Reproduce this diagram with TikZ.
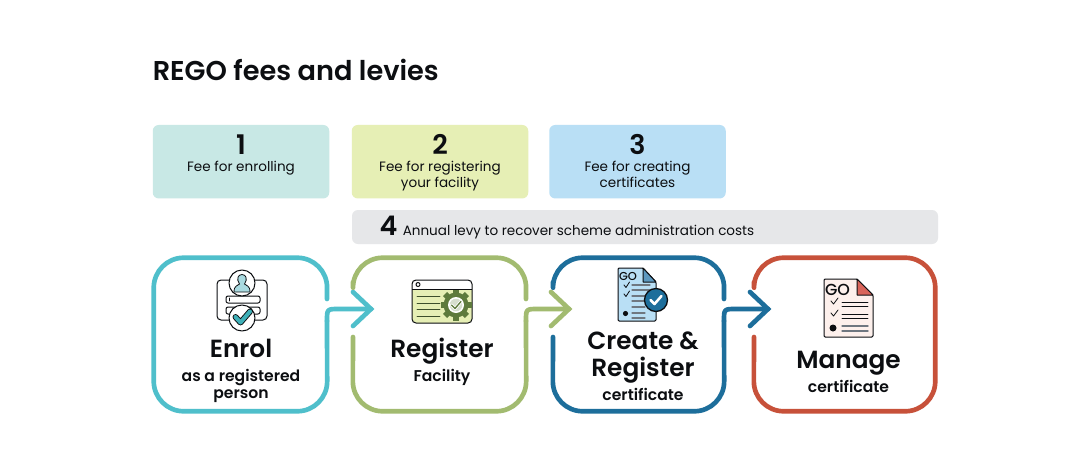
\documentclass[tikz,border=0pt]{standalone}
\usepackage{fontspec}
\setmainfont{Poppins}
\newfontfamily\semi{Poppins SemiBold}
\newfontfamily\medi{Poppins Medium}
\usetikzlibrary{calc}
\newcommand\fpx[1]{\fontsize{\fpeval{#1*0.75}}{\fpeval{#1*0.9}}\selectfont}
\definecolor{ink}{HTML}{0C0E11}
\definecolor{cteal}{HTML}{4FBFCB}
\definecolor{cgreen}{HTML}{A2BB70}
\definecolor{cblue}{HTML}{1D6E9B}
\definecolor{cred}{HTML}{C7513A}
\definecolor{ttile}{HTML}{C8E8E5}
\definecolor{gtile}{HTML}{E6EFB5}
\definecolor{btile}{HTML}{B9DFF5}
\definecolor{ltile}{HTML}{E6E7E9}
\definecolor{iconteal}{HTML}{A9DAE0}
\definecolor{checkteal}{HTML}{3FB0B8}
\definecolor{gear}{HTML}{5D7A3C}
\definecolor{fold}{HTML}{5C98BF}
\definecolor{redfold}{HTML}{D9645A}
\definecolor{pagered}{HTML}{FDF0EC}
\definecolor{linegray}{HTML}{6F7780}
\tikzset{
  x=0.75pt,y=-0.75pt,
  tile/.style={fill=#1,draw=none,rounded corners=4.5pt,inner sep=0pt,minimum height=73.5*0.75pt,minimum width=176.5*0.75pt},
  frame/.style={draw=none,inner sep=0pt,minimum height=153*0.75pt,minimum width=#1*0.75pt},
  route/.style={draw=#1,line width=3.5pt,line cap=round,line join=round,rounded corners=22.5pt},
  link/.style={draw=#1,line width=3.5pt,line cap=round,line join=round},
  head/.style={draw=#1,line width=3.5pt,line cap=round,line join=miter},
  num/.style={anchor=base,inner sep=0pt,text=ink,font=\semi\fpx{27}},
  fee/.style={anchor=base,inner sep=0pt,text=ink,font=\fpx{13.55}},
  big/.style={anchor=base,inner sep=0pt,text=ink,font=\semi\fpx{24.8}},
  sub/.style={anchor=base,inner sep=0pt,text=ink,font=\semi\fpx{15.6}},
  ic/.style={draw=ink,line width=0.75pt,line join=round},
  thin/.style={draw=ink,line width=0.6pt,line cap=round},
  gray/.style={draw=linegray,line width=0.85pt,line cap=round},
}
\begin{document}
\begin{tikzpicture}
\useasboundingbox[fill=white] (0,0) rectangle (1090,450);
% title
\node[anchor=base west,inner sep=0pt,text=ink,font=\semi\fpx{27.2}] (title) at (152.5,80) {REGO fees and levies};
% tiles
\node[tile=ttile] (t1) at (241,161.7) {};
\node[tile=gtile] (t2) at (440,161.7) {};
\node[tile=btile] (t3) at (637.5,161.7) {};
\node[fill=ltile,rounded corners=4.5pt,inner sep=0pt,minimum height=34*0.75pt,minimum width=586*0.75pt] (t4) at (645,227) {};
\node[num] (n1) at (241,154) {1};
\node[fee] (f1) at (241,171.5) {Fee for enrolling};
\node[num] (n2) at (440,154) {2};
\node[fee] (f2a) at (440,171.5) {Fee for registering};
\node[fee] (f2b) at (440,187.5) {your facility};
\node[num] (n3) at (637.5,154) {3};
\node[fee] (f3a) at (637.5,171.5) {Fee for creating};
\node[fee] (f3b) at (637.5,187.5) {certificates};
\node[num] (n4) at (388.5,235) {4};
\node[fee,anchor=base west] (f4) at (402.5,235) {Annual levy to recover scheme administration costs};
% frames
\node[frame=173] (enrol) at (240.5,334.5) {};
\node[frame=173] (reg) at (439.5,334.5) {};
\node[frame=171] (cre) at (638.5,334.5) {};
\node[frame=181] (man) at (844.5,334.5) {};
\coordinate (ea) at (327,299); \coordinate (eb) at (327,309); \coordinate (ec) at (327,321); \coordinate (ed) at (339,309);
\coordinate (rt) at (371,309); \coordinate (ru) at (353,292); \coordinate (rd) at (353,326);
\coordinate (la) at (353,282); \coordinate (lb) at (353,337);
\coordinate (ra) at (526,299); \coordinate (rb) at (526,309); \coordinate (rc) at (526,321); \coordinate (re) at (538,309);
\coordinate (ct) at (569,309); \coordinate (cu) at (551,292); \coordinate (cd) at (551,326);
\coordinate (ma) at (553,282); \coordinate (mb) at (553,337);
\coordinate (na) at (724,299); \coordinate (nb) at (724,309); \coordinate (nc) at (724,321); \coordinate (ne) at (736,309);
\coordinate (mt) at (768,309); \coordinate (mu) at (750,292); \coordinate (md) at (750,326);
\coordinate (pa) at (754,282); \coordinate (pb) at (754,337);
\draw[route=cteal] (ea) -- (enrol.north east) -- (enrol.north west) -- (enrol.south west) -- (enrol.south east) -- (ec);
\draw[link=cteal] (ec) .. controls (eb) .. (ed) -- (rt);
\draw[head=cteal] (ru) -- (rt) -- (rd);
\draw[route=cgreen] (la) -- (reg.north west) -- (reg.north east) -- (ra);
\draw[route=cgreen] (lb) -- (reg.south west) -- (reg.south east) -- (rc);
\draw[link=cgreen] (rc) .. controls (rb) .. (re) -- (ct);
\draw[head=cgreen] (cu) -- (ct) -- (cd);
\draw[route=cblue] (ma) -- (cre.north west) -- (cre.north east) -- (na);
\draw[route=cblue] (mb) -- (cre.south west) -- (cre.south east) -- (nc);
\draw[link=cblue] (nc) .. controls (nb) .. (ne) -- (mt);
\draw[head=cblue] (mu) -- (mt) -- (md);
\draw[route=cred] (pa) -- (man.north west) -- (man.north east) -- (man.south east) -- (man.south west) -- (pb);
% labels
\node[big] (l1) at (241,357) {Enrol};
\node[sub] (l1a) at (241,381) {as a registered};
\node[sub] (l1b) at (241,398) {person};
\node[big] (l2) at (442,357) {Register};
\node[sub] (l2a) at (442,381) {Facility};
\node[big] (l3) at (643,349) {Create \&};
\node[big] (l3a) at (643,376) {Register};
\node[sub] (l3b) at (643,400) {certificate};
\node[big] (l4) at (848.5,368) {Manage};
\node[sub] (l4a) at (848.5,392) {certificate};
% enrol icon
\draw[ic,fill=white,rounded corners=3pt] (217,280) rectangle (267,320);
\draw[ic,fill=white,rounded corners=1.5pt] (226,296) rectangle (260,303);
\draw[ic,fill=white,rounded corners=1.5pt] (226,307) rectangle (260,314);
\draw[thin] (229,298) -- (229,301);
\draw[ic,fill=white] (242,283) circle (13);
\fill[iconteal,draw=ink,line width=0.6pt] (234,292) .. controls (234,285) and (238,286) .. (239.5,284) .. controls (236,279) and (238,274.5) .. (242,274.5) .. controls (246,274.5) and (248,279) .. (244.5,284) .. controls (246,286) and (250,285) .. (250,292) -- cycle;
\draw[ic,fill=white] (242,318) circle (13);
\draw[draw=ink,line width=4.4pt,line cap=round,line join=round] (235.5,317) -- (240.5,322.5) -- (250,311.5);
\draw[draw=checkteal,line width=3pt,line cap=round,line join=round] (235.5,317) -- (240.5,322.5) -- (250,311.5);
% register icon
\fill[gtile,rounded corners=3pt] (412,280) rectangle (472,323);
\begin{scope}
\clip[rounded corners=3pt] (412,280) rectangle (472,323);
\fill[white] (412,280) rectangle (472,289);
\end{scope}
\draw[ic] (412,289) -- (472,289);
\draw[ic,rounded corners=3pt] (412,280) rectangle (472,323);
\draw[ic] (418,284.5) circle (2);
\foreach \yy in {296,303,309.5,316}{\draw[thin,draw=gear!60!ink] (417,\yy) -- (440,\yy);}
\foreach \aa in {0,45,...,315}{\fill[gear,rotate around={\aa:(456,305)}] (453,289.5) rectangle (459,296);}
\fill[gear] (456,305) circle (12.5);
\fill[white] (456,305) circle (8);
\fill[gear!25!white] (456,305) circle (6.3);
\draw[draw=white,line width=2.2pt,line cap=round,line join=round] (451.5,305) -- (455,308.5) -- (461,301.5);
\draw[draw=gear,line width=1pt,line cap=round,line join=round] (451.5,305) -- (455,308.5) -- (461,301.5);
% create icon
\draw[ic,fill=btile,rounded corners=0.8pt] (618,268) -- (643,268) -- (656,282) -- (656,321) -- (618,321) -- cycle;
\draw[ic,fill=fold] (643,268) -- (656,282) -- (643,282) -- cycle;
\node[anchor=base,inner sep=0pt,text=ink,font=\medi\fpx{11.5}] (go1) at (628,280) {GO};
\draw[thin,line join=round] (624,285) -- (626,287.5) -- (629.5,282);
\draw[thin,line join=round] (624,294) -- (626,296.5) -- (629.5,291);
\foreach \yy in {285,290,296,301}{\draw[gray] (632,\yy) -- (650,\yy);}
\foreach \yy in {307,313,318}{\draw[gray] (632,\yy) -- (645,\yy);}
\fill[ink] (625.5,313.5) circle (2.6);
\draw[ic,fill=cblue,line width=1pt] (656,300) circle (11.5);
\draw[draw=white,line width=1.9pt,line cap=round,line join=round] (650.5,300) -- (654.5,304) -- (661.5,296);
% manage icon
\draw[ic,fill=pagered,rounded corners=0.8pt] (824,279) -- (857,279) -- (873,295) -- (873,337) -- (824,337) -- cycle;
\draw[ic,fill=redfold] (857,279) -- (873,295) -- (857,295) -- cycle;
\node[anchor=base,inner sep=0pt,text=ink,font=\medi\fpx{16}] (go2) at (837.5,295) {GO};
\draw[thin,line join=round] (831,301) -- (833.5,304) -- (838,298);
\draw[thin,line join=round] (831,313) -- (833.5,316) -- (838,310);
\foreach \yy in {302,306,314,318}{\draw[thin] (842,\yy) -- (868,\yy);}
\foreach \yy in {326,331}{\draw[gray,line width=1pt] (842,\yy) -- (868,\yy);}
\fill[ink] (833,328) circle (3.5);
\end{tikzpicture}
\end{document}
